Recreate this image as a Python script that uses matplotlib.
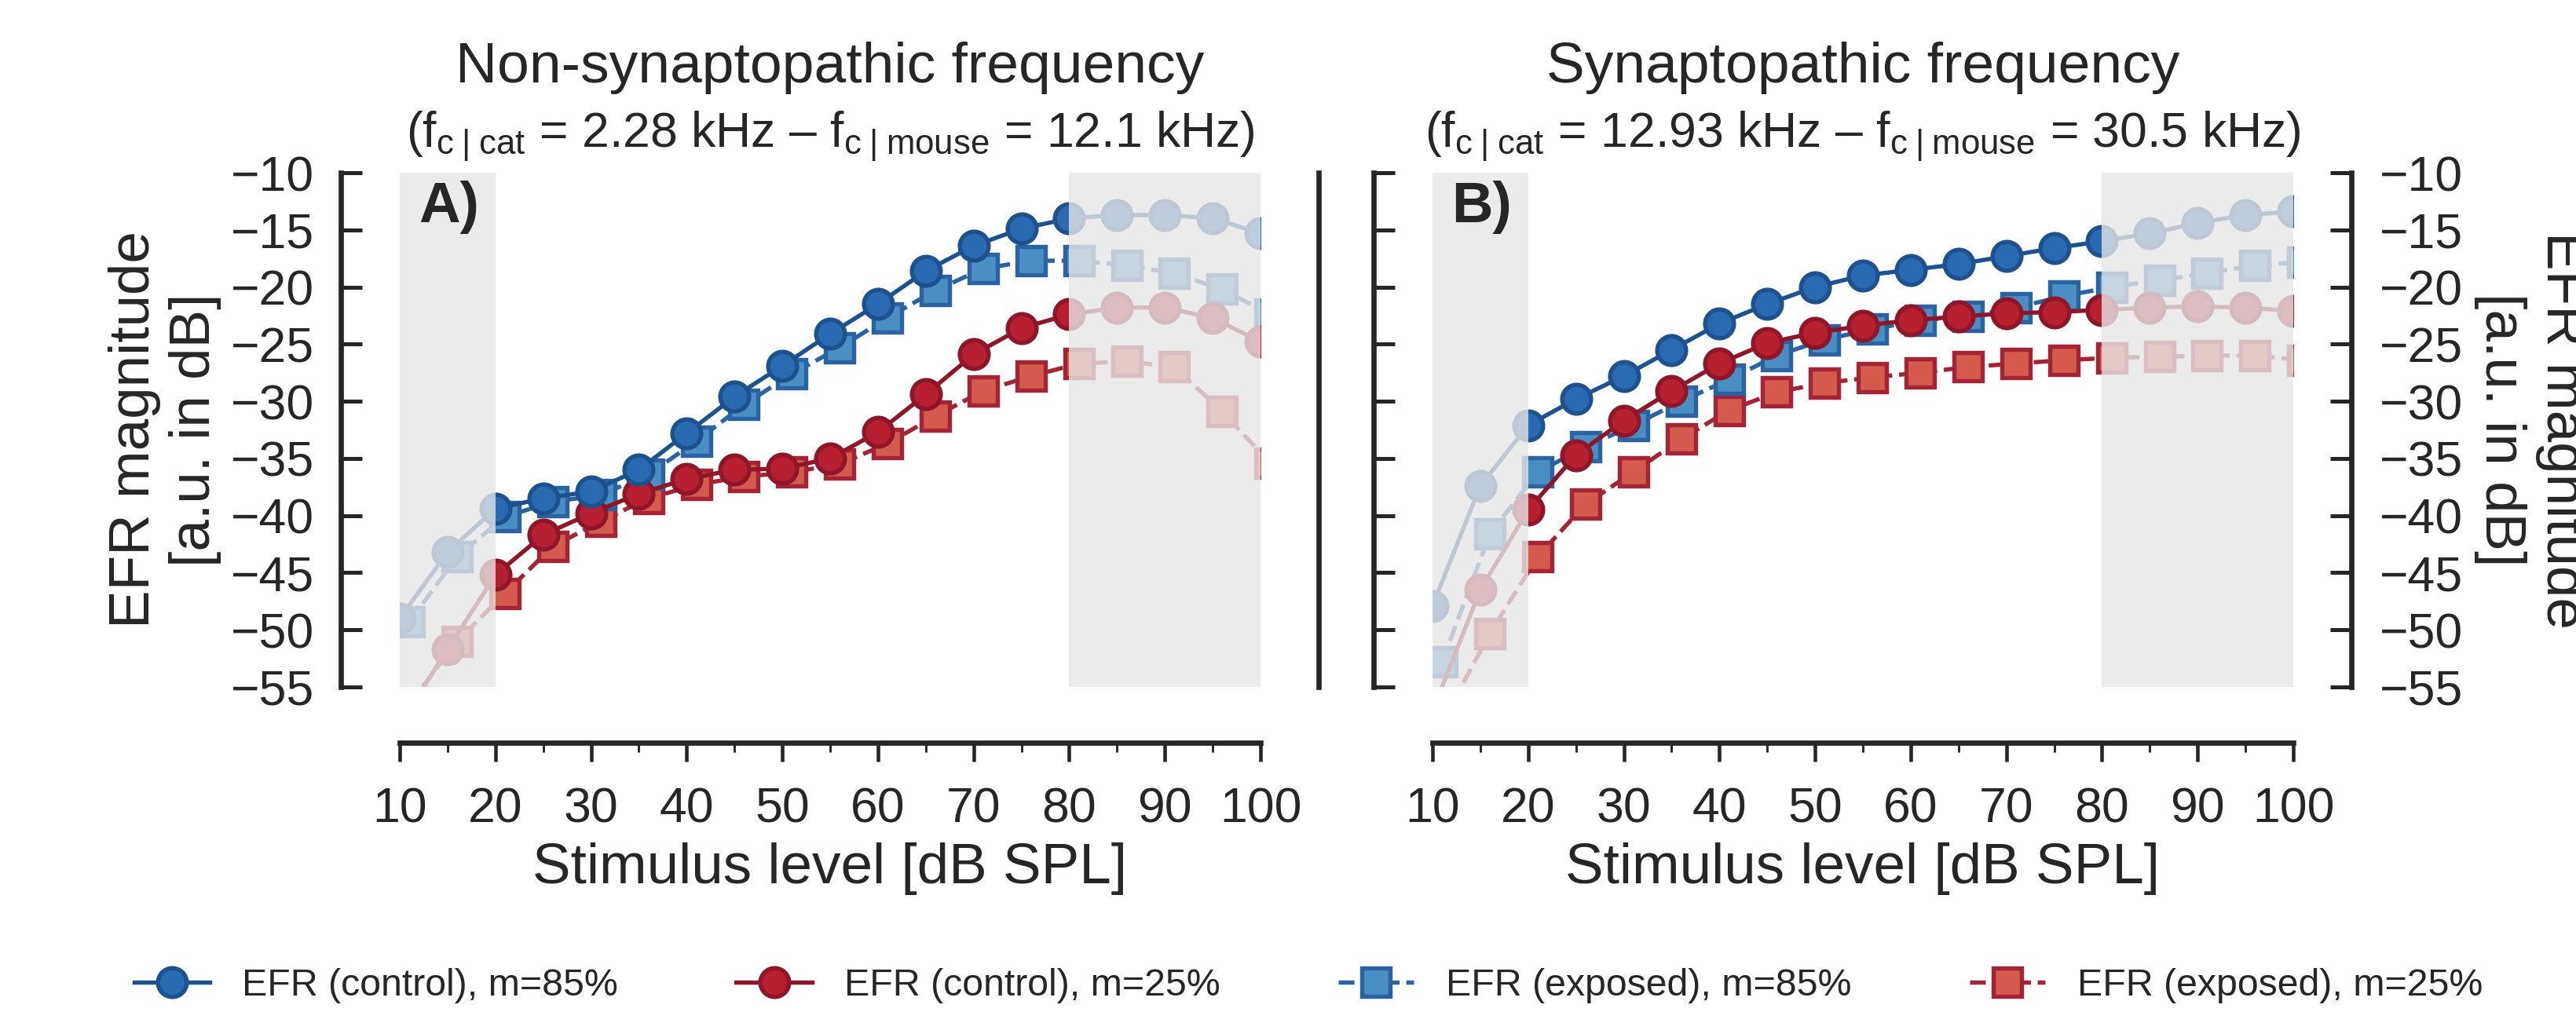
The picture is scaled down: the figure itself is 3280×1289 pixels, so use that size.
import numpy as np
import matplotlib
matplotlib.use("Agg")
import matplotlib.pyplot as plt

plt.rcParams['font.family'] = ['Liberation Sans', 'DejaVu Sans']
plt.rcParams['mathtext.fontset'] = 'custom'
plt.rcParams['mathtext.rm'] = 'Liberation Sans'
plt.rcParams['mathtext.it'] = 'Liberation Sans'
plt.rcParams['mathtext.bf'] = 'Liberation Sans:bold'

# stimulus levels [dB SPL]; exposed curves are drawn dodged by +1 dB
levels = np.array([10, 15, 20, 25, 30, 35, 40, 45, 50, 55, 60, 65, 70, 75, 80, 85, 90, 95, 100])
dodge = 1

# non-synaptopathic frequency (panel A)
a_ctrl85 = [-49.0, -43.2, -39.4, -38.5, -37.9, -36.0, -32.8, -29.6, -26.9, -24.1,
            -21.5, -18.6, -16.4, -14.9, -14.0, -13.7, -13.7, -14.0, -15.3]
a_ctrl25 = [-58.3, -51.7, -45.2, -41.7, -39.8, -38.1, -36.8, -36.0, -35.9, -35.0,
            -32.7, -29.4, -25.9, -23.6, -22.4, -21.8, -21.8, -22.7, -24.8]
a_exp85 = [-49.3, -43.6, -40.1, -38.8, -38.2, -36.4, -33.5, -30.3, -27.6, -25.3,
           -22.7, -20.3, -18.4, -17.7, -17.7, -18.1, -18.8, -20.2, -22.4]
a_exp25 = [-56.5, -51.0, -46.8, -42.7, -40.5, -38.5, -37.3, -36.6, -36.2, -35.5,
           -33.7, -31.3, -29.1, -27.8, -26.7, -26.5, -27.0, -30.9, -35.4]

# synaptopathic frequency (panel B)
b_ctrl85 = [-47.9, -37.4, -32.1, -29.8, -27.8, -25.5, -23.2, -21.5, -20.0, -19.0,
            -18.5, -18.0, -17.3, -16.6, -16.0, -15.3, -14.4, -13.7, -13.4]
b_ctrl25 = [-57.1, -46.5, -39.5, -34.7, -31.7, -29.1, -26.7, -24.9, -24.0, -23.4,
            -22.9, -22.6, -22.3, -22.2, -22.0, -21.8, -21.7, -21.8, -22.1]
b_exp85 = [-52.8, -41.6, -36.2, -34.0, -32.1, -30.0, -28.1, -26.0, -24.6, -23.7,
           -22.9, -22.6, -21.8, -20.8, -20.0, -19.4, -18.8, -18.1, -17.8]
b_exp25 = [-58.1, -50.3, -43.6, -39.0, -36.2, -33.3, -30.8, -29.2, -28.4, -27.9,
           -27.5, -27.0, -26.7, -26.4, -26.2, -26.1, -26.0, -26.0, -26.4]

titles = ['Non-synaptopathic frequency', 'Synaptopathic frequency']
subtitles = [r'(f$_{\mathregular{c\;|\;cat}}$ = 2.28 kHz – f$_{\mathregular{c\;|\;mouse}}$ = 12.1 kHz)',
             r'(f$_{\mathregular{c\;|\;cat}}$ = 12.93 kHz – f$_{\mathregular{c\;|\;mouse}}$ = 30.5 kHz)']
panel_tags = ['A)', 'B)']
names = ['EFR (control), m=85%', 'EFR (control), m=25%',
         'EFR (exposed), m=85%', 'EFR (exposed), m=25%']

dark = '#262626'
styles = [  # face, edge, marker, linestyle
    ('#2a6ab0', '#1d528f', 'o', '-'),
    ('#b51f30', '#8e1628', 'o', '-'),
    ('#4a8fc4', '#2b62a0', 's', '--'),
    ('#d35a4c', '#a22435', 's', '--'),
]
zorders = [4, 3.8, 3.2, 3]

W, H = 3280, 1289
fig = plt.figure(figsize=(W / 300, H / 300), dpi=300)
axA = fig.add_axes([509 / W, 1 - 875 / H, 1096 / W, 655 / H])
axB = fig.add_axes([1824 / W, 1 - 875 / H, 1096 / W, 655 / H])

px = 72 / 300  # points per pixel

handles = []
for k, (ax, series) in enumerate([(axA, [a_ctrl85, a_ctrl25, a_exp85, a_exp25]),
                                  (axB, [b_ctrl85, b_ctrl25, b_exp85, b_exp25])]):
    for i, y in enumerate(series):
        face, edge, mk, ls = styles[i]
        x = levels + (dodge if i >= 2 else 0)
        ln, = ax.plot(x, y, ls=ls, color=edge, lw=1.3, marker=mk, ms=8.8,
                      mfc=face, mec=edge, mew=1.3, zorder=zorders[i], label=names[i])
        if k == 0:
            handles.append(ln)

    # unreliable level ranges
    ax.axvspan(10, 20, color=(0.9, 0.9, 0.9), alpha=0.8, lw=0, zorder=5)
    ax.axvspan(80, 100, color=(0.9, 0.9, 0.9), alpha=0.8, lw=0, zorder=5)

    ax.set_xlim(10, 100)
    ax.set_ylim(-55, -10)
    ax.set_xticks(np.arange(10, 101, 10))
    ax.set_xticks(np.arange(15, 100, 10), minor=True)
    ax.set_yticks(np.arange(-55, -9, 5))

    ax.spines['top'].set_visible(False)
    for s in ['left', 'right', 'bottom']:
        ax.spines[s].set_linewidth(1.6)
        ax.spines[s].set_color(dark)
    ax.spines['bottom'].set_position(('outward', 71 * px))
    ax.spines['bottom'].set_bounds(10, 100)
    ax.spines['left'].set_position(('outward', 75 * px))
    ax.spines['right'].set_position(('outward', 74 * px))
    ax.spines['left'].set_bounds(-55, -10)
    ax.spines['right'].set_bounds(-55, -10)

    ax.tick_params(axis='x', which='major', direction='out', length=5.8, width=1.1,
                   color=dark, labelsize=15, labelcolor=dark, pad=7.4)
    ax.tick_params(axis='x', which='minor', direction='out', length=2.9, width=0.7, color=dark)
    ax.tick_params(axis='y', which='major', direction='in', length=6.4, width=1.2,
                   color=dark, labelsize=15, labelcolor=dark, pad=8.2)

    ax.set_xlabel('Stimulus level [dB SPL]', fontsize=17.5, color=dark, labelpad=3)

    ax.text(0.5, (875 - 105) / 655, titles[k], transform=ax.transAxes,
            ha='center', va='baseline', fontsize=17.6, color=dark)
    ax.text(0.5, (875 - 187) / 655, subtitles[k], transform=ax.transAxes,
            ha='center', va='baseline', fontsize=15.0, color=dark)
    ax.text(0.022, 0.985, panel_tags[k], transform=ax.transAxes, ha='left', va='top',
            fontsize=17.5, fontweight='bold', color=dark, zorder=10)

# panel A: ticks and labels on the left, plain spine on the right
axA.tick_params(axis='y', left=True, right=False, labelleft=True, labelright=False)
axA.set_ylabel('EFR magnitude\n[a.u. in dB]', fontsize=17.5, color=dark)
axA.yaxis.set_label_coords(-0.207, 0.5)

# panel B: ticks on both sides, labels on the right
axB.tick_params(axis='y', left=True, right=True, labelleft=False, labelright=True, pad=8.6)
axB.yaxis.set_label_position('right')
axB.set_ylabel('EFR magnitude\n[a.u. in dB]', fontsize=17.5, color=dark,
               rotation=270, va='bottom')
axB.yaxis.set_label_coords(1.21, 0.5)

fig.legend(handles=handles, loc='center', bbox_to_anchor=(0.508, 1 - 1255 / H),
           ncol=4, frameon=False, fontsize=11.6, handlelength=2.0,
           handletextpad=0.85, columnspacing=3.1, labelcolor=dark)

fig.savefig('out.png', dpi=300)
